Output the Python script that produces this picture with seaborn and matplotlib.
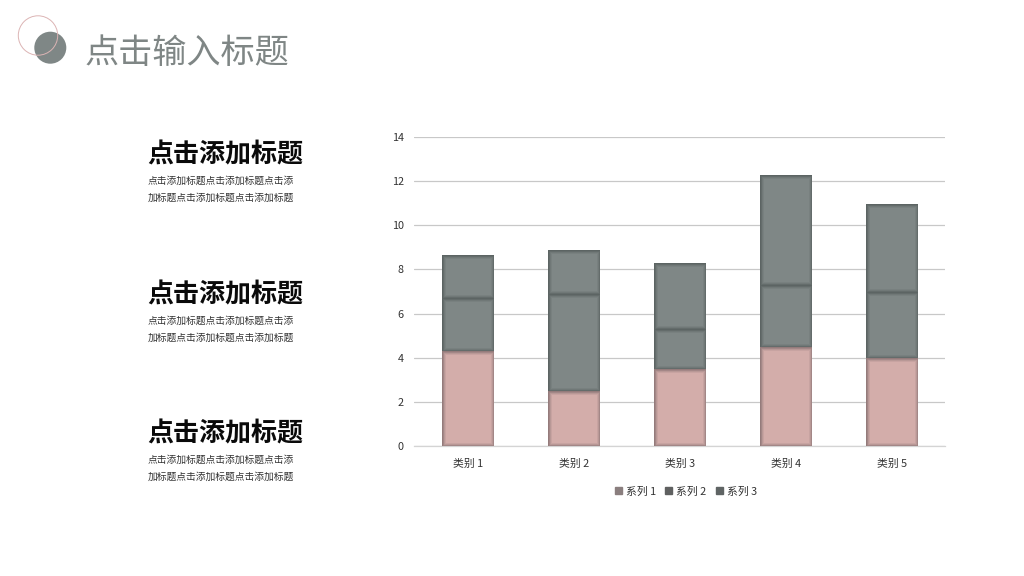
import matplotlib
matplotlib.use("Agg")
import matplotlib.pyplot as plt
from matplotlib.patches import Circle, Patch, Rectangle
import seaborn as sns
import pandas as pd

sns.set_theme(style="white")
plt.rcParams['font.family'] = ['Noto Sans CJK SC', 'DejaVu Sans']

categories = ["类别 1", "类别 2", "类别 3", "类别 4", "类别 5"]
series_1 = [4.3, 2.5, 3.5, 4.5, 4.0]
series_2 = [2.4, 4.4, 1.8, 2.8, 3.0]
series_3 = [1.95, 2.0, 3.0, 5.0, 3.95]
series_names = ["系列 1", "系列 2", "系列 3"]
y_ticks = [0, 2, 4, 6, 8, 10, 12, 14]
main_title = "点击输入标题"
block_title = "点击添加标题"
block_lines = ["点击添加标题点击添加标题点击添", "加标题点击添加标题点击添加标题"]

W, H = 1024, 576
fig = plt.figure(figsize=(W / 100, H / 100), dpi=100, facecolor="white")
ax = fig.add_axes([414 / W, 1 - 446 / H, (945 - 414) / W, (446 - 137) / H])

df = pd.DataFrame({"cat": categories, "s1": series_1, "s2": series_2, "s3": series_3})
fills = ["#d3adaa", "#7f8786", "#7f8786"]
edges = ["#6f5f60", "#4a5150", "#4a5150"]
bottom = [0.0] * len(categories)
for col, fill in zip(["s1", "s2", "s3"], fills):
    sns.barplot(data=df, x="cat", y=col, bottom=bottom, color=fill, saturation=1,
                width=0.49, ax=ax, zorder=3, linewidth=0)
    bottom = [b + v for b, v in zip(bottom, df[col])]

# soft inner shadow: outlines of the library's own bars, clipped to each bar
n = len(categories)
for i, p in enumerate(list(ax.patches)):
    edge = edges[i // n]
    for lw, a in [(5.0, 0.12), (3.4, 0.18), (2.0, 0.25), (0.9, 0.3)]:
        r = Rectangle((p.get_x(), p.get_y()), p.get_width(), p.get_height(),
                      facecolor="none", edgecolor=edge, linewidth=lw, alpha=a, zorder=4)
        ax.add_patch(r)
        r.set_clip_path(p)

ax.set_xlim(-0.505, 4.495)
ax.set_ylim(0, 14)
ax.set_yticks(y_ticks)
ax.set_xlabel("")
ax.set_ylabel("")
ax.grid(axis="y", color="#c8c8c8", linewidth=0.9, zorder=0)
ax.set_axisbelow(True)
for s in ["top", "right", "left"]:
    ax.spines[s].set_visible(False)
ax.spines["bottom"].set_color("#d4d4d4")
ax.spines["bottom"].set_linewidth(0.9)
ax.tick_params(axis="both", length=0, labelsize=7.8, labelcolor="#333333")
ax.tick_params(axis="x", pad=9)
ax.tick_params(axis="y", pad=7.5)

handles = [Patch(color=c) for c in ["#8a7e7e", "#5f6060", "#5f6464"]]
fig.legend(handles, series_names, loc="center", bbox_to_anchor=(686 / W, 1 - 491.5 / H),
           ncol=3, frameon=False, fontsize=7.8, labelcolor="#333333",
           handlelength=0.62, handleheight=0.62, handletextpad=0.4, columnspacing=0.85,
           borderpad=0, borderaxespad=0)

# decoration
bg = fig.add_axes([0, 0, 1, 1], zorder=-1)
bg.set_xlim(0, W)
bg.set_ylim(H, 0)
bg.axis("off")
bg.add_patch(Circle((50.3, 47.7), 16, facecolor="#7f8786", edgecolor="none"))
bg.add_patch(Circle((38, 35.5), 19.7, facecolor="none", edgecolor="#dcb4b4", linewidth=0.7, zorder=3))

bg.text(85, 54, main_title, fontsize=24.6, color="#7f8685", va="center", ha="left")
for ty, l1, l2 in [(154.5, 181, 198), (294.5, 321, 338), (433.5, 460, 477)]:
    bg.text(147.5, ty, block_title, fontsize=18.75, fontweight="bold", color="#0a0a0a", va="center", ha="left")
    bg.text(147.5, l1, block_lines[0], fontsize=7.05, color="#333333", va="center", ha="left")
    bg.text(147.5, l2, block_lines[1], fontsize=7.05, color="#333333", va="center", ha="left")

fig.savefig("out.png", dpi=100, facecolor="white")
